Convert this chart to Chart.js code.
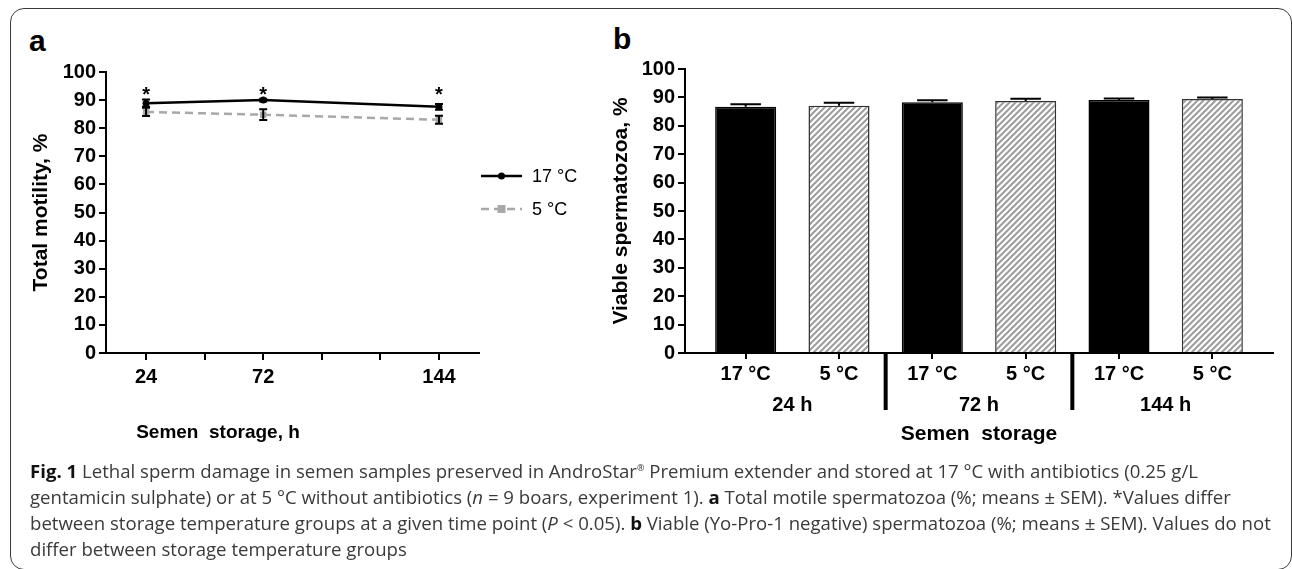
<!DOCTYPE html>
<html>
<head>
<meta charset="utf-8">
<script src="https://cdn.jsdelivr.net/npm/chart.js@4.4.1/dist/chart.umd.min.js"></script>
<style>
    html, body { margin: 0; padding: 0; background: #fff; }
    body { width: 1292px; height: 569px; position: relative; overflow: hidden; font-family: "Liberation Sans", Arial, sans-serif; }
    .frame { position: absolute; left: 10px; top: 8px; width: 1282px; height: 562px; border: 1.5px solid #3a3a3a; border-radius: 14px; box-sizing: border-box; }
    .panel-label { position: absolute; font-weight: bold; font-size: 30px; line-height: 30px; color: #000; }
    #chartA { position: absolute; left: 0; top: 0; }
    #chartB { position: absolute; left: 590px; top: 0; }
    .caption { position: absolute; left: 30px; top: 455px; font-family: "Open Sans", sans-serif; font-size: 18.6px; line-height: 26px; color: #3a3a3a; white-space: nowrap; }
    .caption b { color: #111; }
    .caption sup { font-size: 9px; }
</style>
</head>
<body>
<div class="frame"></div>
<div class="panel-label" style="left:29px; top:26px;">a</div>
<div class="panel-label" style="left:613px; top:24px;">b</div>
<canvas id="chartA" width="580" height="470"></canvas>
<canvas id="chartB" width="700" height="470"></canvas>
<div class="caption">
<b>Fig. 1</b> Lethal sperm damage in semen samples preserved in AndroStar<sup>®</sup> Premium extender and stored at 17 °C with antibiotics (0.25 g/L<br>
gentamicin sulphate) or at 5 °C without antibiotics (<i>n</i> = 9 boars, experiment 1). <b>a</b> Total motile spermatozoa (%; means ± SEM). *Values differ<br>
between storage temperature groups at a given time point (<i>P</i> &lt; 0.05). <b>b</b> Viable (Yo-Pro-1 negative) spermatozoa (%; means ± SEM). Values do not<br>
differ between storage temperature groups
</div>
<script>
// 图 a：总活力
const hoursA = [24, 72, 144];
const motility17 = [88.9, 90.0, 87.6];
const motility17Sem = [1.3, 0.5, 1.0];
const motility5 = [85.8, 84.8, 83.0];
const motility5Sem = [1.5, 1.9, 1.4];
const sigA = [true, true, true];
const xTicksA = [24, 48, 72, 96, 120, 144];
const xLabelsA = [24, 72, 144];

// 图 b：存活精子
const tempLabels = ['17 °C', '5 °C', '17 °C', '5 °C', '17 °C', '5 °C'];
const groupLabels = ['24 h', '72 h', '144 h'];
const viable = [86.7, 87.1, 88.3, 88.7, 89.1, 89.4];
const viableSem = [0.9, 1.0, 0.7, 0.8, 0.5, 0.6];

const boldFont = { family: '"Liberation Sans", Arial, sans-serif', size: 20, weight: 'bold' };
const titleFont = { family: '"Liberation Sans", Arial, sans-serif', size: 21, weight: 'bold' };

// 斜线填充
function makeHatch() {
    const c = document.createElement('canvas');
    c.width = 6; c.height = 6;
    const g = c.getContext('2d');
    g.fillStyle = '#fff';
    g.fillRect(0, 0, 6, 6);
    g.strokeStyle = '#9c9c9c';
    g.lineWidth = 2;
    g.beginPath();
    g.moveTo(-1, 7); g.lineTo(7, -1);
    g.moveTo(-1, 1); g.lineTo(1, -1);
    g.moveTo(5, 7); g.lineTo(7, 5);
    g.stroke();
    return g.createPattern(c, 'repeat');
}
const hatch = makeHatch();

const axisGrid = { display: true, drawOnChartArea: false, drawTicks: true, tickLength: 7, color: '#000', lineWidth: 2, offset: false };
const axisBorder = { display: true, color: '#000', width: 2 };

// 误差线、星号、图例
const extrasA = {
    id: 'extrasA',
    afterDatasetsDraw(chart) {
        const ctx = chart.ctx, x = chart.scales.x, y = chart.scales.y;
        ctx.save();
        ctx.strokeStyle = '#000';
        ctx.lineWidth = 2;
        chart.data.datasets.forEach(ds => {
            ds.sem.forEach((e, i) => {
                const px = x.getPixelForValue(ds.data[i].x);
                const top = y.getPixelForValue(ds.data[i].y + e);
                const bot = y.getPixelForValue(ds.data[i].y - e);
                ctx.beginPath();
                ctx.moveTo(px, top); ctx.lineTo(px, bot);
                ctx.moveTo(px - 4, top); ctx.lineTo(px + 4, top);
                ctx.moveTo(px - 4, bot); ctx.lineTo(px + 4, bot);
                ctx.stroke();
            });
        });
        // 星号
        const tops = [];
        chart.data.datasets.forEach(ds => ds.data.forEach((p, i) => tops.push(p.y + ds.sem[i])));
        const starPx = y.getPixelForValue(Math.max(...tops)) + 2;
        ctx.fillStyle = '#000';
        ctx.font = 'bold 20px "Liberation Sans", Arial, sans-serif';
        ctx.textAlign = 'center';
        ctx.textBaseline = 'alphabetic';
        hoursA.forEach((h, i) => {
            if (sigA[i]) ctx.fillText('*', x.getPixelForValue(h), starPx);
        });
        // 图例
        const lx = chart.chartArea.right + 2;
        const rows = [chart.chartArea.top + 104, chart.chartArea.top + 137];
        ctx.font = '18px "Liberation Sans", Arial, sans-serif';
        ctx.textAlign = 'left';
        ctx.textBaseline = 'middle';
        chart.data.datasets.forEach((ds, k) => {
            const ly = rows[k];
            ctx.beginPath();
            ctx.strokeStyle = ds.borderColor;
            ctx.lineWidth = ds.borderWidth;
            ctx.setLineDash(ds.borderDash || []);
            ctx.moveTo(lx, ly); ctx.lineTo(lx + 41, ly);
            ctx.stroke();
            ctx.setLineDash([]);
            ctx.fillStyle = ds.pointBackgroundColor;
            if (ds.pointStyle === 'rect') {
                ctx.fillRect(lx + 20.5 - 4, ly - 4, 8, 8);
            } else {
                ctx.beginPath();
                ctx.arc(lx + 20.5, ly, 3.5, 0, Math.PI * 2);
                ctx.fill();
            }
            ctx.fillStyle = '#000';
            ctx.fillText(ds.label, lx + 51, ly + 1);
        });
        // x 轴标题
        ctx.font = 'bold 19px "Liberation Sans", Arial, sans-serif';
        ctx.textAlign = 'center';
        ctx.fillText('Semen  storage, h', 218, 433);
        ctx.restore();
    }
};

new Chart(document.getElementById('chartA'), {
    type: 'line',
    data: {
        datasets: [
            {
                label: '17 °C',
                data: hoursA.map((h, i) => ({ x: h, y: motility17[i] })),
                sem: motility17Sem,
                borderColor: '#000',
                borderWidth: 2.5,
                pointStyle: 'circle',
                pointRadius: 3.5,
                pointBackgroundColor: '#000',
                pointBorderWidth: 0,
                order: 1
            },
            {
                label: '5 °C',
                data: hoursA.map((h, i) => ({ x: h, y: motility5[i] })),
                sem: motility5Sem,
                borderColor: '#a8a8a8',
                borderWidth: 2.5,
                borderDash: [8, 5],
                pointStyle: 'rect',
                pointRadius: 4.5,
                pointBackgroundColor: '#a8a8a8',
                pointBorderWidth: 0,
                order: 2
            }
        ]
    },
    options: {
        responsive: false,
        animation: false,
        devicePixelRatio: 1,
        layout: { padding: { left: 20, right: 101, top: 72, bottom: 37 } },
        plugins: { legend: { display: false }, tooltip: { enabled: false } },
        scales: {
            x: {
                type: 'linear',
                min: 7.6,
                max: 160.4,
                afterBuildTicks: s => { s.ticks = xTicksA.map(v => ({ value: v })); },
                afterFit: s => { s.height = 80; },
                grid: axisGrid,
                border: axisBorder,
                ticks: {
                    color: '#000',
                    font: boldFont,
                    padding: 5,
                    maxRotation: 0,
                    autoSkip: false,
                    callback: v => xLabelsA.includes(v) ? String(v) : ''
                }
            },
            y: {
                min: 0,
                max: 100,
                afterFit: s => { s.width = 86; },
                grid: axisGrid,
                border: axisBorder,
                ticks: { stepSize: 10, color: '#000', font: boldFont, padding: 3 },
                title: { display: true, text: 'Total motility, %', color: '#000', font: titleFont, padding: { top: 9, bottom: 0 } }
            }
        }
    },
    plugins: [extrasA]
});

// 柱状图误差线和分组分隔线
const extrasB = {
    id: 'extrasB',
    afterDatasetsDraw(chart) {
        const ctx = chart.ctx, y = chart.scales.y;
        const meta = chart.getDatasetMeta(0);
        ctx.save();
        ctx.strokeStyle = '#000';
        ctx.lineWidth = 2;
        meta.data.forEach((bar, i) => {
            const top = y.getPixelForValue(viable[i] + viableSem[i]);
            ctx.beginPath();
            ctx.moveTo(bar.x, bar.y);
            ctx.lineTo(bar.x, top);
            ctx.moveTo(bar.x - bar.width / 4, top);
            ctx.lineTo(bar.x + bar.width / 4, top);
            ctx.stroke();
        });
        ctx.restore();
    },
    afterDraw(chart) {
        const ctx = chart.ctx, x = chart.scales.x;
        ctx.save();
        ctx.strokeStyle = '#000';
        ctx.lineWidth = 4;
        [1.5, 3.5].forEach(v => {
            const px = x.getPixelForValue(v);
            ctx.beginPath();
            ctx.moveTo(px, x.top);
            ctx.lineTo(px, x.top + 57);
            ctx.stroke();
        });
        ctx.restore();
    }
};

new Chart(document.getElementById('chartB'), {
    type: 'bar',
    data: {
        datasets: [{
            data: viable.map((v, i) => ({ x: i, y: v })),
            backgroundColor: viable.map((v, i) => i % 2 === 0 ? '#000' : hatch),
            borderColor: viable.map((v, i) => i % 2 === 0 ? '#000' : '#333'),
            borderWidth: 1.5,
            borderSkipped: 'bottom',
            barPercentage: 0.654,
            categoryPercentage: 1
        }]
    },
    options: {
        responsive: false,
        animation: false,
        devicePixelRatio: 1,
        layout: { padding: { left: 0, right: 17, top: 69, bottom: 19 } },
        plugins: { legend: { display: false }, tooltip: { enabled: false } },
        scales: {
            x: {
                type: 'linear',
                position: 'bottom',
                offset: false,
                min: -0.65,
                max: 5.65,
                afterBuildTicks: s => { s.ticks = tempLabels.map((t, i) => ({ value: i })); },
                afterFit: s => { s.height = 32; },
                grid: Object.assign({}, axisGrid, { tickLength: 6 }),
                border: axisBorder,
                ticks: {
                    color: '#000',
                    font: boldFont,
                    padding: 3,
                    maxRotation: 0,
                    autoSkip: false,
                    callback: (v, i) => tempLabels[i]
                }
            },
            x2: {
                type: 'linear',
                position: 'bottom',
                offset: false,
                min: -0.65,
                max: 5.65,
                afterBuildTicks: s => { s.ticks = groupLabels.map((t, i) => ({ value: i * 2 + 0.5 })); },
                afterFit: s => { s.height = 66; },
                grid: { display: false, offset: false },
                border: { display: false },
                ticks: {
                    color: '#000',
                    font: boldFont,
                    padding: 0,
                    maxRotation: 0,
                    autoSkip: false,
                    callback: (v, i) => groupLabels[i]
                },
                title: { display: true, text: 'Semen  storage', color: '#000', font: titleFont, padding: { top: 0, bottom: 4 } }
            },
            y: {
                min: 0,
                max: 100,
                afterFit: s => { s.width = 95; },
                grid: axisGrid,
                border: axisBorder,
                ticks: { stepSize: 10, color: '#000', font: boldFont, padding: 3 },
                title: { display: true, text: 'Viable spermatozoa, %', color: '#000', font: titleFont, padding: { top: 19, bottom: 0 } }
            }
        }
    },
    plugins: [extrasB]
});
</script>
</body>
</html>
